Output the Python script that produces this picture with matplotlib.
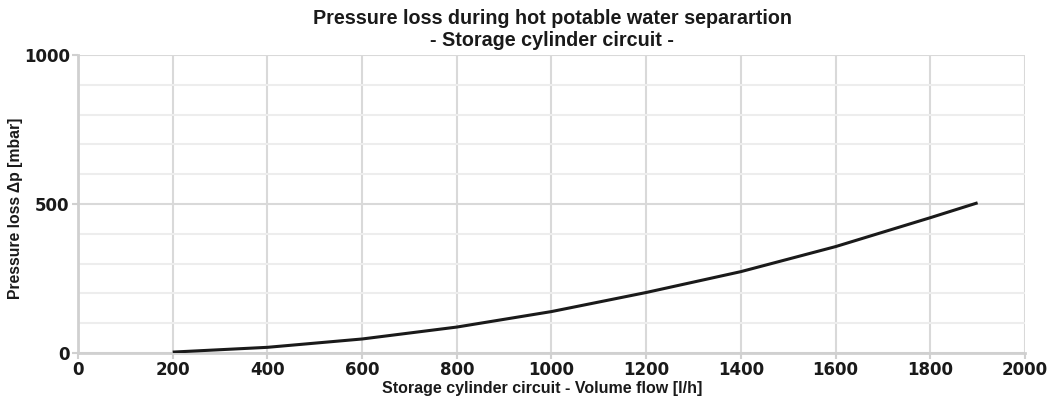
import matplotlib

matplotlib.use("Agg")
import matplotlib.pyplot as plt
from matplotlib.ticker import MultipleLocator

# volume flow [l/h] and pressure loss [mbar]
flow = [200, 400, 600, 800, 1000, 1200, 1400, 1600, 1800, 1900]
pressure = [3, 19, 47, 87, 139, 203, 273, 357, 454, 504]

x_ticks = [0, 200, 400, 600, 800, 1000, 1200, 1400, 1600, 1800, 2000]
y_ticks = [0, 500, 1000]

TITLE = "Pressure loss during hot potable water separartion\n- Storage cylinder circuit -"
XLABEL = "Storage cylinder circuit - Volume flow [l/h]"
YLABEL = "Pressure loss \u0394p [mbar]"

fig = plt.figure(figsize=(10.56, 3.98), dpi=100)
ax = fig.add_axes([0.0739, 0.1131, 0.8967, 0.7487])

ax.plot(flow, pressure, color="#1a1a1a", linewidth=2.2, solid_capstyle="butt",
        solid_joinstyle="round", zorder=3)

ax.set_xlim(0, 2000)
ax.set_ylim(0, 1000)
ax.set_xticks(x_ticks)
ax.set_yticks(y_ticks)
ax.yaxis.set_minor_locator(MultipleLocator(100))

ax.grid(which="major", color="#d9d9d9", linewidth=1.5)
ax.grid(which="minor", axis="y", color="#ededed", linewidth=1.5)
ax.set_axisbelow(True)

for side in ("top", "right"):
    ax.spines[side].set_visible(False)
for side in ("left", "bottom"):
    ax.spines[side].set_color("#d0d0d0")
    ax.spines[side].set_linewidth(2.0)

ax.tick_params(axis="both", which="major", length=4, width=1.5, color="#d0d0d0", pad=2)
ax.tick_params(axis="y", which="minor", length=0)
for lab in ax.get_xticklabels() + ax.get_yticklabels():
    lab.set_fontfamily("DejaVu Sans")
    lab.set_fontweight("bold")
    lab.set_fontsize(12)
    lab.set_color("#1a1a1a")

sans = ["Liberation Sans", "DejaVu Sans"]
ax.set_xlabel(XLABEL, family=sans, fontweight="bold", fontsize=11.5, color="#1a1a1a")
ax.xaxis.set_label_coords(0.49, -0.094)
ax.set_ylabel(YLABEL, family=sans, fontweight="bold", fontsize=11.3, color="#1a1a1a",
              va="center")
ax.yaxis.set_label_coords(-0.066, 0.487)

fig.text(0.523, 0.977, TITLE, ha="center", va="top", family=sans,
         fontweight="bold", fontsize=14.2, color="#1a1a1a", linespacing=1.22)

fig.savefig("out.png", dpi=100)
